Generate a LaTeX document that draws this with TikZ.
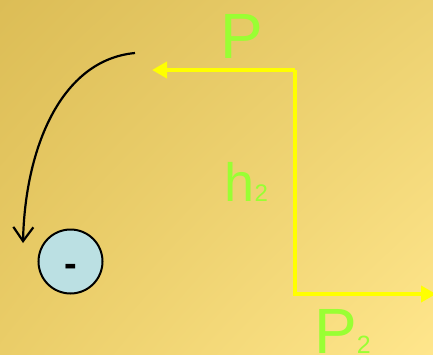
\documentclass[tikz,border=0pt]{standalone}
\usepackage{fontspec}
\setmainfont{Liberation Sans}
\usetikzlibrary{arrows.meta,shadings}
\definecolor{bgTL}{RGB}{220,189,86}
\definecolor{bgTR}{RGB}{236,209,112}
\definecolor{bgBL}{RGB}{234,205,104}
\definecolor{bgBR}{RGB}{255,230,140}
\definecolor{lblgreen}{RGB}{153,255,51}
\definecolor{lineyellow}{RGB}{255,255,0}
\definecolor{ballblue}{RGB}{187,224,227}
\tikzset{
  lbl/.style={text=lblgreen, inner sep=0pt, anchor=base west},
  yline/.style={draw=lineyellow, line width=4.5pt, line join=miter},
  ytip/.style={-{Triangle[length=15pt,width=16pt]}},
  ball/.style={circle, draw=black, line width=2pt, fill=ballblue, minimum size=64pt, inner sep=0pt},
  curvearrow/.style={draw=black, line width=2.2pt, -{Straight Barb[length=14pt,width=20pt,line width=2.2pt]}}
}
\begin{document}
\begin{tikzpicture}[x=1pt,y=-1pt]
\useasboundingbox (0,0) rectangle (433,354);
\clip (0,0) rectangle (433,354);
\shade[upper left=bgTL, upper right=bgTR, lower left=bgBL, lower right=bgBR] (0,0) rectangle (433,354);
% yellow lines
\coordinate (A) at (152,70);
\coordinate (B) at (295,70);
\coordinate (C) at (295,294);
\coordinate (D) at (436,294);
\draw[yline, ytip] (B) -- (A);
\draw[yline, ytip] (B) -- (C) -- (D);
% labels
\node[lbl, font=\fontsize{64}{64}\selectfont] (P) at (220,58) {P};
\node[lbl, font=\fontsize{54}{54}\selectfont] (h2) at (224.5,201) {h\fontsize{24}{24}\selectfont 2};
\node[lbl, font=\fontsize{64}{64}\selectfont] (P2) at (314,353) {P\fontsize{25}{25}\selectfont 2};
% ball
\node[ball] (M) at (70.5,261.5) {};
\node[inner sep=0pt, anchor=base, font=\bfseries\fontsize{38}{38}\selectfont] (minus) at (70.5,276.5) {-};
% curved arrow
\coordinate (S) at (135,53);
\coordinate (E) at (23,243);
\draw[curvearrow] (S) .. controls (60,60) and (25,150) .. (E);
\end{tikzpicture}
\end{document}
